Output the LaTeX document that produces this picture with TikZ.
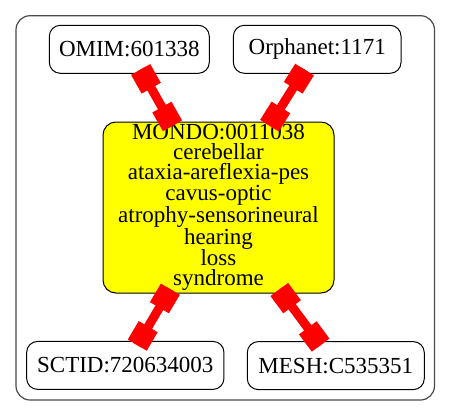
\documentclass[tikz,border=0pt]{standalone}
\usepackage{fontspec}
\setmainfont{Liberation Serif}
\usepackage{xcolor}
\definecolor{linkred}{HTML}{FF0000}
\definecolor{mondoyellow}{HTML}{FFFF00}
\definecolor{clustergray}{HTML}{4A4A4A}
\usepackage{tikz}
\usetikzlibrary{positioning, decorations.markings}
\tikzset{
  every node/.style={font=\fontsize{23}{19.8}\selectfont},
  xrefbox/.style={
    rectangle, rounded corners=11pt, draw=black, fill=white,
    line width=1pt, minimum height=48pt, align=center, inner sep=0pt
  },
  mondobox/.style={
    rectangle, rounded corners=13pt, draw=black, fill=mondoyellow,
    line width=1pt, minimum width=231pt, minimum height=171pt,
    align=center, inner sep=0pt
  },
  clusterbox/.style={
    rectangle, rounded corners=14pt, draw=clustergray, line width=1.2pt,
    minimum width=418.5pt, minimum height=384.3pt, inner sep=0pt
  },
  linkarrow/.style={linkred, line width=9pt,
    shorten <=-5pt, shorten >=-5pt,
    postaction={decorate, decoration={markings,
      mark=at position 0 with {\fill[linkred] (-5pt,-11pt) rectangle (16.5pt,11pt);},
      mark=at position 1 with {\fill[linkred] (-16.5pt,-11pt) rectangle (5pt,11pt);}}}}
}

\begin{document}
\begin{tikzpicture}[x=1pt, y=1pt]
\useasboundingbox (0,0) rectangle (451,-416);

% Cluster frame
\node[clusterbox] (cluster) at (225.25,-207.85) {};

% Central disease node
\node[mondobox] (mondo) at (218.5,-207.5)
  {MONDO:0011038\\cerebellar\\ataxia-areflexia-pes\\cavus-optic\\atrophy-sensorineural\\hearing\\loss\\syndrome};

% Cross references
\node[xrefbox, minimum width=160pt, above=47.7pt of mondo, xshift=-89.2pt] (omim) {OMIM:601338};
\node[xrefbox, minimum width=167.7pt, above=47.7pt of mondo, xshift=98.7pt] (orphanet) {Orphanet:1171};
\node[xrefbox, minimum width=197.3pt, below=47.4pt of mondo, xshift=-93.2pt] (sctid) {SCTID:720634003};
\node[xrefbox, minimum width=177pt, below=47.6pt of mondo, xshift=117.3pt] (mesh) {MESH:C535351};

% Links
\foreach \a/\b in {omim/mondo, orphanet/mondo, mondo/sctid, mondo/mesh} {
  \draw[linkarrow] (\a) -- (\b);
}

\end{tikzpicture}
\end{document}
